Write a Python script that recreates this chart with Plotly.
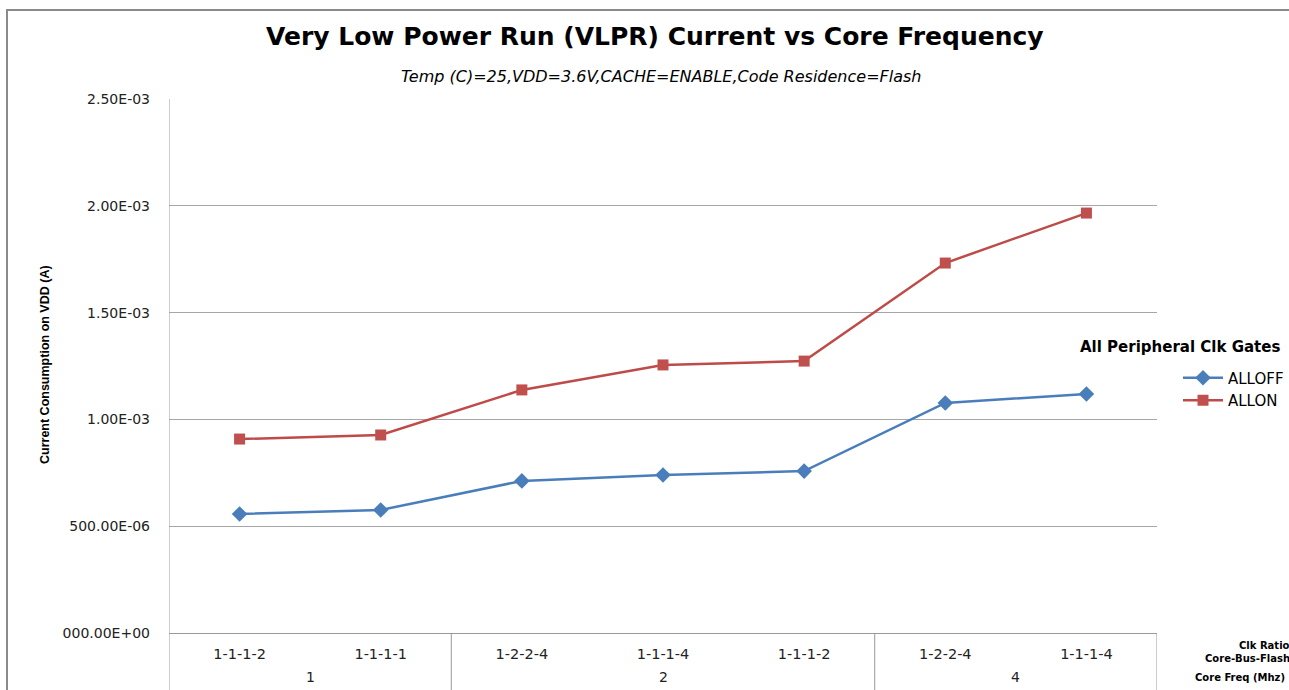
import plotly.graph_objects as go

# ---- data ----
clk_ratio = ["1-1-1-2", "1-1-1-1", "1-2-2-4", "1-1-1-4", "1-1-1-2", "1-2-2-4", "1-1-1-4"]
core_freq = ["1", "1", "2", "2", "2", "4", "4"]
alloff = [0.557e-3, 0.576e-3, 0.712e-3, 0.740e-3, 0.758e-3, 1.077e-3, 1.119e-3]
allon = [0.908e-3, 0.927e-3, 1.138e-3, 1.255e-3, 1.273e-3, 1.732e-3, 1.966e-3]
y_tickvals = [0, 0.5e-3, 1.0e-3, 1.5e-3, 2.0e-3, 2.5e-3]
y_ticktext = ["000.00E+00", "500.00E-06", "1.00E-03", "1.50E-03", "2.00E-03", "2.50E-03"]

idx = list(range(len(clk_ratio)))
FONT = "'DejaVu Sans', 'Open Sans', sans-serif"
W, H = 1289, 690

fig = go.Figure()
fig.add_trace(go.Scatter(
    x=idx, y=alloff, name="ALLOFF", mode="lines+markers",
    line=dict(color="#4A7EBB", width=2.5),
    marker=dict(symbol="diamond", size=12, color="#4A7EBB"),
))
fig.add_trace(go.Scatter(
    x=idx, y=allon, name="ALLON", mode="lines+markers",
    line=dict(color="#BE4B48", width=2.5),
    marker=dict(symbol="square", size=11, color="#C0504D"),
))

# group dividers and labels
groups = []
for i, f in enumerate(core_freq):
    if groups and groups[-1][0] == f:
        groups[-1][2] = i
    else:
        groups.append([f, i, i])

shapes = []
annotations = []
for k, (f, s, e) in enumerate(groups):
    annotations.append(dict(x=(s + e) / 2, y=-0.0824, xref="x", yref="paper",
                            text=f, showarrow=False, yanchor="middle",
                            font=dict(family=FONT, size=14, color="#222")))
    for xb in ([s - 0.5] if k == 0 else []) + [e + 0.5]:
        y_top = 1.0 if k == 0 and xb == s - 0.5 else 0.0
        shapes.append(dict(type="line", xref="x", yref="paper", x0=xb, x1=xb,
                           y0=y_top, y1=-0.12, line=dict(color="#9A9A9A", width=1)))

# outer chart frame
shapes.append(dict(type="rect", xref="paper", yref="paper",
                   x0=(7 - 169) / 988, x1=(1300 - 169) / 988,
                   y0=(633 - 700) / 534, y1=(633 - 10) / 534,
                   line=dict(color="#8A8A8A", width=2), layer="below"))

annotations += [
    dict(xref="paper", yref="paper", x=(655 - 169) / 988, y=(633 - 37) / 534,
         text="<b>Very Low Power Run (VLPR) Current vs Core Frequency</b>",
         showarrow=False, xanchor="center", yanchor="middle",
         font=dict(family=FONT, size=25, color="#000")),
    dict(xref="paper", yref="paper", x=(661 - 169) / 988, y=(633 - 77) / 534,
         text="<i>Temp (C)=25,VDD=3.6V,CACHE=ENABLE,Code Residence=Flash</i>",
         showarrow=False, xanchor="center", yanchor="middle",
         font=dict(family=FONT, size=16, color="#000")),
    dict(xref="paper", yref="paper", x=(1282 - 169) / 988, y=(633 - 347) / 534,
         text="<b>All Peripheral Clk Gates</b>", showarrow=False,
         xanchor="right", yanchor="middle",
         font=dict(family=FONT, size=15, color="#000")),
    dict(xref="paper", yref="paper", x=(1292 - 169) / 988, y=(633 - 645) / 534,
         text="<b>Clk Ratio</b>", showarrow=False, xanchor="right", yanchor="middle",
         font=dict(family=FONT, size=10, color="#000")),
    dict(xref="paper", yref="paper", x=(1292 - 169) / 988, y=(633 - 658) / 534,
         text="<b>Core-Bus-Flash</b>", showarrow=False, xanchor="right", yanchor="middle",
         font=dict(family=FONT, size=10, color="#000")),
    dict(xref="paper", yref="paper", x=(1287 - 169) / 988, y=(633 - 677) / 534,
         text="<b>Core Freq (Mhz)</b>", showarrow=False, xanchor="right", yanchor="middle",
         font=dict(family=FONT, size=10, color="#000")),
    dict(xref="paper", yref="paper", x=(45 - 169) / 988, y=(633 - 365) / 534,
         text="<b>Current Consumption on VDD (A)</b>", showarrow=False, textangle=-90,
         xanchor="center", yanchor="middle",
         font=dict(family="'Liberation Sans Narrow', 'Arial Narrow', sans-serif", size=12.5, color="#000")),
]

fig.update_layout(
    width=W, height=H,
    margin=dict(l=169, r=132, t=99, b=57, autoexpand=False),
    paper_bgcolor="white", plot_bgcolor="white",
    showlegend=True,
    legend=dict(xref="container", yref="container", x=1178 / W, y=1 - 389 / H,
                xanchor="left", yanchor="middle",
                font=dict(family=FONT, size=15, color="#000"),
                bgcolor="rgba(0,0,0,0)", tracegroupgap=4, itemwidth=40),
    shapes=shapes,
    annotations=annotations,
)
fig.update_xaxes(
    range=[-0.5, len(idx) - 0.5], tickmode="array", tickvals=idx, ticktext=clk_ratio,
    showgrid=False, zeroline=False, showline=True, linecolor="#9A9A9A", linewidth=1,
    ticks="", ticklabelstandoff=8,
    tickfont=dict(family=FONT, size=14.5, color="#222"),
)
fig.update_yaxes(
    range=[0, 2.5e-3], tickmode="array", tickvals=y_tickvals, ticktext=y_ticktext,
    showgrid=True, gridcolor="#A6A6A6", gridwidth=1, zeroline=False,
    showline=False, ticks="", ticklabelstandoff=18,
    tickfont=dict(family=FONT, size=14, color="#222"),
)

fig.write_html("out.html", config={"displayModeBar": False},
               post_script="document.body.style.margin='0';document.body.style.overflow='hidden';")
